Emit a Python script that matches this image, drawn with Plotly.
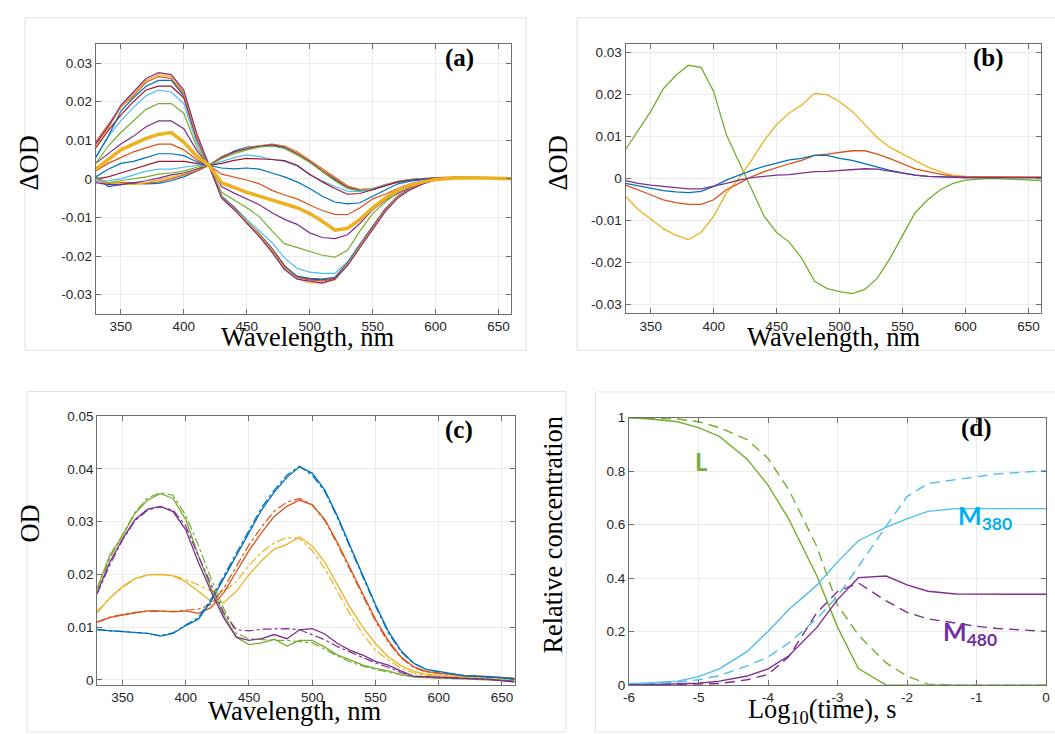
import plotly.graph_objects as go

W, H = 1055, 734

# ---------------- data ----------------
wl = [330, 340, 350, 360, 370, 380, 390, 400, 410, 420, 430, 440, 450, 460, 470, 480,
      490, 500, 510, 520, 530, 540, 550, 560, 570, 580, 590, 600, 620, 640, 660]

# panel (a): 18 time-resolved difference spectra (early -> late)
a01 = [.0005,-.002,-.0015,-.0012,-.0013,-.0012,-.0005,.0005,.002,.0035,.0055,.0072,.0082,.0085,.0086,.0082,.0068,.0046,.002,-.0003,-.0022,-.003,-.0027,-.0017,-.0008,-.0003,0,.0002,.0004,.0002,.0001]
a02 = [-.0005,-.0012,-.001,-.001,-.0012,-.0008,0,.001,.002,.0035,.0057,.007,.0078,.0085,.009,.0085,.007,.0048,.0024,.0002,-.0018,-.0028,-.0025,-.0015,-.0007,-.0002,.0001,.0003,.0005,.0003,0]
a03 = [-.0005,-.001,-.0012,-.0015,-.001,-.0003,.0005,.0012,.0025,.0035,.0055,.0068,.008,.0086,.0088,.0085,.0068,.0046,.0022,0,-.002,-.0028,-.0025,-.0015,-.0006,-.0002,0,.0002,.0004,.0003,.0001]
a04 = [-.001,-.0015,-.0015,-.001,-.0005,.0002,.001,.0015,.0025,.0035,.0055,.007,.0078,.0085,.0088,.0082,.0065,.0045,.002,-.0002,-.0022,-.003,-.0028,-.0017,-.0008,-.0002,0,.0002,.0004,.0002,0]
a05 = [.0005,-.001,-.0005,0,.0005,.0012,.0015,.002,.003,.0035,.0052,.0065,.0075,.0082,.0085,.0078,.0062,.0042,.0018,-.0005,-.0025,-.0032,-.0028,-.0018,-.0008,-.0003,0,.0002,.0003,.0002,.0001]
a06 = [-.0005,-.0005,0,.001,.002,.0025,.0025,.003,.0035,.0035,.0045,.0055,.0062,.0058,.005,.0045,.0033,.001,-.0005,-.002,-.0032,-.0033,-.0025,-.0015,-.0007,-.0002,0,.0002,.0003,.0002,0]
a07 = [0,.0005,.0015,.0025,.0035,.0045,.0045,.0045,.004,.0035,.004,.0048,.0053,.0052,.005,.0047,.0035,.0012,-.0008,-.0025,-.004,-.0038,-.0028,-.0018,-.0008,-.0003,0,.0002,.0003,.0001,0]
a08 = [.0005,.0025,.004,.0045,.0055,.0065,.0065,.006,.0045,.0035,.0028,.0026,.0028,.0025,.0015,.0005,-.0008,-.0025,-.0045,-.006,-.0065,-.0062,-.0045,-.0028,-.0013,-.0006,-.0002,0,.0003,.0002,0]
a09 = [.002,.004,.0055,.007,.008,.009,.009,.0075,.005,.0035,.0012,.0005,-.0003,-.0013,-.003,-.0042,-.0052,-.0068,-.0082,-.0092,-.0093,-.0075,-.0052,-.004,-.0025,-.0013,-.0005,0,.0003,.0002,0]
a10 = [.0025,.005,.0075,.009,.0105,.0115,.012,.0095,.006,.0035,-.001,-.0022,-.0035,-.0045,-.0055,-.0065,-.0075,-.009,-.011,-.0133,-.0128,-.0105,-.0075,-.005,-.003,-.0017,-.0008,-.0002,.0003,.0002,0]
a11 = [.004,.0065,.009,.011,.0135,.015,.015,.013,.0075,.0035,-.002,-.0037,-.0052,-.0067,-.0088,-.0105,-.0118,-.014,-.0152,-.0155,-.0145,-.0115,-.008,-.0055,-.0038,-.0022,-.001,-.0002,.0003,.0002,0]
a12 = [.004,.0085,.012,.015,.018,.0195,.0195,.017,.0085,.0035,-.0035,-.0055,-.0075,-.0098,-.0135,-.0168,-.0178,-.019,-.0198,-.0203,-.0185,-.0135,-.009,-.006,-.0035,-.0018,-.0008,0,.0003,.0002,0]
a13 = [.0055,.011,.015,.0185,.0215,.023,.0225,.0195,.0095,.0035,-.0044,-.0072,-.0105,-.0135,-.0165,-.0205,-.0232,-.0242,-.0245,-.0245,-.0215,-.0168,-.0122,-.0078,-.0045,-.0024,-.001,0,.0003,.0003,.0001]
a14 = [.008,.0125,.0165,.02,.023,.024,.024,.021,.0105,.0035,-.0046,-.0075,-.011,-.0143,-.018,-.0225,-.0255,-.026,-.0262,-.0257,-.0222,-.0172,-.0125,-.008,-.0047,-.0026,-.0012,-.0002,.0003,.0001,0]
a15 = [.0055,.011,.0175,.021,.024,.0255,.0255,.0215,.011,.0035,-.0046,-.0076,-.011,-.0145,-.0183,-.0228,-.0252,-.0258,-.026,-.0255,-.0218,-.017,-.0123,-.0078,-.0045,-.0024,-.001,0,.0004,.0002,.0001]
a16 = [.0095,.014,.0185,.0215,.025,.0265,.026,.022,.011,.0035,-.0047,-.0077,-.0112,-.0148,-.0188,-.0232,-.0255,-.0262,-.0265,-.0258,-.022,-.0172,-.0125,-.008,-.0046,-.0025,-.001,0,.0005,.0003,.0002]
a17 = [.0085,.013,.0185,.022,.0255,.027,.0265,.0225,.0115,.0035,-.0048,-.0078,-.011,-.0145,-.0185,-.023,-.0258,-.027,-.027,-.0262,-.0222,-.0175,-.0128,-.0083,-.0048,-.0026,-.0012,-.0002,.0004,.0003,0]
a18 = [.009,.0135,.019,.0225,.026,.0275,.027,.023,.012,.0035,-.005,-.008,-.0115,-.015,-.019,-.0235,-.026,-.0265,-.027,-.026,-.0225,-.0178,-.013,-.0085,-.005,-.0028,-.0013,-.0003,.0003,.0002,0]

# panel (b): 5 component difference spectra
b_green  = [.0069,.0113,.016,.0214,.0246,.027,.0265,.0207,.0105,.004,-.0027,-.009,-.0129,-.0152,-.0191,-.0245,-.0263,-.027,-.0275,-.0265,-.0238,-.0191,-.0136,-.0082,-.0051,-.0027,-.0012,-.0004,0,-.0002,-.0005]
b_yellow = [-.0043,-.0074,-.0097,-.012,-.0136,-.0146,-.0129,-.009,-.0035,0,.0043,.009,.0129,.0156,.0175,.0203,.02,.0183,.016,.0129,.0097,.0074,.0058,.0043,.0027,.0016,.0008,.0005,.0004,.0003,.0003]
b_orange = [-.0016,-.0027,-.0039,-.0051,-.0058,-.0062,-.0062,-.0051,-.0027,-.0012,.0004,.0016,.0026,.0035,.0043,.0055,.0058,.0062,.0066,.0066,.0058,.0047,.0035,.0023,.0016,.001,.0005,.0004,.0003,.0003,.0003]
b_blue   = [-.0012,-.0018,-.0023,-.0029,-.0032,-.0034,-.0031,-.0019,-.0004,.0008,.0019,.0029,.0037,.0044,.0048,.0055,.0055,.0048,.0043,.0035,.0027,.0019,.0013,.0008,.0005,.0004,.0002,.0002,.0002,.0002,.0002]
b_purple = [-.0005,-.0012,-.0016,-.0019,-.0023,-.0025,-.0025,-.0019,-.0012,-.0004,.0002,.0005,.0008,.0009,.0012,.0016,.0017,.0019,.0022,.0023,.0022,.0017,.0012,.0008,.0005,.0004,.0002,.0002,.0002,.0002,.0002]

# panel (c): absolute spectra, measured (solid) and model (dash-dot)
c_blue_s   = [.0095,.0093,.0092,.009,.0088,.0083,.0088,.0103,.0115,.0149,.0192,.0236,.0279,.0322,.0356,.0384,.0404,.0392,.036,.031,.0254,.0199,.0143,.0093,.0056,.0032,.002,.0016,.0008,.0006,.0002]
c_blue_d   = [.0096,.0093,.0092,.009,.0088,.0084,.0089,.0104,.0118,.0153,.0197,.0242,.0285,.0327,.036,.0388,.0405,.0388,.0357,.0307,.0251,.0196,.014,.009,.0054,.0031,.002,.0015,.0008,.0005,.0002]
c_orange_s = [.0109,.0118,.0123,.0127,.0131,.0131,.0129,.0131,.0126,.0137,.0165,.0205,.0245,.0279,.031,.0329,.0341,.0332,.0304,.026,.0211,.0162,.0115,.0075,.0044,.0025,.0016,.0013,.0008,.0006,.0003]
c_orange_d = [.011,.0119,.0124,.0128,.013,.013,.013,.0132,.0134,.0143,.0173,.0215,.0256,.029,.032,.0337,.0344,.0332,.0302,.0257,.0208,.0158,.0111,.0072,.0042,.0024,.0015,.0012,.0008,.0005,.0003]
c_yellow_s = [.0127,.0155,.0177,.0192,.0199,.02,.0197,.0186,.0168,.0149,.0146,.0168,.0199,.0226,.0248,.0257,.0271,.0254,.0223,.018,.0137,.01,.0069,.0044,.0027,.0016,.0011,.0008,.0006,.0005,.0002]
c_yellow_d = [.013,.0155,.0175,.0192,.0199,.02,.0198,.019,.018,.0169,.0168,.0186,.0217,.0242,.026,.027,.0268,.0245,.0211,.0168,.0124,.0087,.0056,.0038,.0022,.0013,.0009,.0007,.0005,.0004,.0002]
c_green_s  = [.0174,.0236,.0273,.0316,.0341,.0353,.0344,.0304,.0236,.0174,.0124,.0081,.0067,.007,.0077,.0064,.0075,.0075,.0062,.0047,.0038,.0028,.0022,.0017,.001,.0006,.0005,.0004,.0003,.0001,-.0002]
c_green_d  = [.0172,.023,.0275,.0318,.0345,.0355,.035,.0312,.0255,.0192,.0136,.0088,.0078,.0076,.0075,.0075,.0073,.007,.0058,.0045,.0034,.0026,.002,.0015,.0009,.0005,.0004,.0003,.0002,.0001,-.0001]
c_purple_s = [.0165,.0223,.0267,.0304,.0324,.0329,.0319,.0285,.0223,.0168,.0118,.0081,.0075,.0078,.0086,.0078,.0095,.0097,.0087,.0069,.0056,.0047,.0035,.0028,.0017,.0007,.0006,.0005,.0004,.0001,-.0004]
c_purple_d = [.0163,.0218,.0265,.0302,.0322,.0328,.0322,.0292,.0235,.018,.0128,.0095,.0093,.0096,.0097,.0097,.0095,.0086,.0076,.0063,.0053,.0042,.0032,.0024,.0014,.0007,.0005,.0004,.0003,.0001,-.0003]

# panel (d): relative concentrations vs log10(time)
logt = [-6, -5.7, -5.3, -5, -4.7, -4.3, -4, -3.7, -3.3, -3, -2.7, -2.3, -2, -1.7, -1.3, -1, -0.7, -0.3, 0]
L_s    = [1.0, .995, .985, .963, .93, .845, .748, .62, .41, .217, .062, 0, 0, 0, 0, 0, 0, 0, 0]
L_d    = [1.0, .999, .995, .985, .963, .918, .848, .73, .52, .30, .187, .083, .034, .004, 0, 0, 0, 0, 0]
M380_s = [.005, .008, .015, .032, .061, .126, .201, .283, .373, .461, .54, .591, .622, .65, .66, .66, .66, .66, .66]
M380_d = [.003, .006, .012, .02, .036, .072, .105, .158, .248, .333, .443, .595, .705, .754, .768, .78, .79, .797, .802]
M480_s = [0, .002, .004, .007, .015, .034, .061, .11, .215, .32, .402, .408, .375, .351, .341, .34, .34, .34, .34]
M480_d = [0, .001, .002, .003, .006, .02, .04, .107, .27, .35, .382, .315, .272, .248, .232, .22, .212, .205, .201]

# ticks
wl_ticks = [350, 400, 450, 500, 550, 600, 650]
wl_ticktext = ["350", "400", "450", "500", "550", "600", "650"]
dod_ticks = [-0.03, -0.02, -0.01, 0, 0.01, 0.02, 0.03]
dod_ticktext = ["-0.03", "-0.02", "-0.01", "0", "0.01", "0.02", "0.03"]
od_ticks = [0, 0.01, 0.02, 0.03, 0.04, 0.05]
od_ticktext = ["0", "0.01", "0.02", "0.03", "0.04", "0.05"]
t_ticks = [-6, -5, -4, -3, -2, -1, 0]
t_ticktext = ["-6", "-5", "-4", "-3", "-2", "-1", "0"]
c_ticks = [0, 0.2, 0.4, 0.6, 0.8, 1]
c_ticktext = ["0", "0.2", "0.4", "0.6", "0.8", "1"]

# ---------------- styles ----------------
BLUE, ORANGE, YELLOW, PURPLE, GREEN, LBLUE, DRED = (
    "#0072BD", "#D95319", "#EDB120", "#7E2F8E", "#77AC30", "#4DBEEE", "#A2142F")
cycle = [BLUE, ORANGE, YELLOW, PURPLE, GREEN, LBLUE, DRED]

fig = go.Figure()

a_curves = [a01, a02, a03, a04, a05, a06, a07, a08, a09, a10, a11, a12, a13, a14, a15, a16, a17, a18]
for i, ys in enumerate(a_curves):
    if i == 9:
        continue
    fig.add_trace(go.Scatter(x=wl, y=ys, mode="lines", xaxis="x", yaxis="y",
                             line=dict(color=cycle[i % 7], width=1.2)))
fig.add_trace(go.Scatter(x=wl, y=a10, mode="lines", xaxis="x", yaxis="y",
                         line=dict(color=YELLOW, width=3.5)))

for ys, col in [(b_green, GREEN), (b_yellow, YELLOW), (b_orange, ORANGE), (b_blue, BLUE), (b_purple, PURPLE)]:
    fig.add_trace(go.Scatter(x=wl, y=ys, mode="lines", xaxis="x2", yaxis="y2",
                             line=dict(color=col, width=1.3)))

for ys_s, ys_d, col in [(c_yellow_s, c_yellow_d, YELLOW), (c_orange_s, c_orange_d, ORANGE),
                        (c_blue_s, c_blue_d, BLUE), (c_green_s, c_green_d, GREEN),
                        (c_purple_s, c_purple_d, PURPLE)]:
    fig.add_trace(go.Scatter(x=wl, y=ys_d, mode="lines", xaxis="x3", yaxis="y3",
                             line=dict(color=col, width=1.2, dash="dashdot")))
    fig.add_trace(go.Scatter(x=wl, y=ys_s, mode="lines", xaxis="x3", yaxis="y3",
                             line=dict(color=col, width=1.3)))

for ys, col, dash in [(L_s, GREEN, "solid"), (L_d, GREEN, "10px,6px"),
                      (M380_s, LBLUE, "solid"), (M380_d, LBLUE, "10px,6px"),
                      (M480_s, PURPLE, "solid"), (M480_d, PURPLE, "10px,6px")]:
    fig.add_trace(go.Scatter(x=logt, y=ys, mode="lines", xaxis="x4", yaxis="y4",
                             line=dict(color=col, width=1.4, dash=dash)))

AX = "#6e6e6e"
GRID = "#ebebeb"
TICKFONT = dict(family="Liberation Sans, Arial, sans-serif", size=13.5, color="#262626")


def ax(domain, rng, tv, tt, anchor):
    return dict(domain=domain, range=rng, tickvals=tv, ticktext=tt, anchor=anchor,
                showline=True, linecolor=AX, linewidth=1, mirror="ticks",
                ticks="inside", ticklen=5, tickcolor=AX, tickwidth=1,
                showgrid=True, gridcolor=GRID, gridwidth=1, zeroline=False,
                tickfont=TICKFONT, fixedrange=True)


def px(x):
    return x / W


def py(y):
    return 1 - y / H


fig.update_layout(
    width=W, height=H, margin=dict(l=0, r=0, t=0, b=0),
    paper_bgcolor="white", plot_bgcolor="white", showlegend=False,
    xaxis=ax([px(90.5), px(510)], [330, 660], wl_ticks, wl_ticktext, "y"),
    yaxis=ax([py(313.3), py(37.5)], [-0.035, 0.035], dod_ticks, dod_ticktext, "x"),
    xaxis2=ax([px(625.5), px(1045)], [330, 660], wl_ticks, wl_ticktext, "y2"),
    yaxis2=ax([py(312.7), py(37.7)], [-0.0322, 0.0321], dod_ticks, dod_ticktext, "x2"),
    xaxis3=ax([px(92), px(513.5)], [330, 660], wl_ticks, wl_ticktext, "y3"),
    yaxis3=ax([py(692.3), py(417.7)], [-0.001, 0.05], od_ticks, od_ticktext, "x3"),
    xaxis4=ax([px(629), px(1050)], [-6, 0], t_ticks, t_ticktext, "y4"),
    yaxis4=ax([py(692.3), py(419.3)], [0, 1], c_ticks, c_ticktext, "x4"),
)

# light panel frames
FRAME = "#e3e3e3"
for x0, y0, x1, y1 in [(19, 11, 525, 350.5), (576.5, 11, 1060, 350.5),
                       (21.5, 392.5, 565.5, 740), (595, 393, 1060, 740)]:
    fig.add_shape(type="rect", xref="paper", yref="paper",
                  x0=px(x0), x1=px(x1), y0=py(y1), y1=py(y0),
                  line=dict(color=FRAME, width=1), fillcolor="rgba(0,0,0,0)", layer="below")

SERIF = "Liberation Serif, Times New Roman, serif"


def txt(x, y, s, size, angle=0, bold=False, color="black", family=SERIF):
    fig.add_annotation(x=px(x), y=py(y), xref="paper", yref="paper", text=("<b>%s</b>" % s) if bold else s,
                       showarrow=False, xanchor="center", yanchor="middle", textangle=angle,
                       font=dict(family=family, size=size, color=color))


# panel labels
txt(457.7, 52, "(a)", 25, bold=True)
txt(992, 52, "(b)", 25, bold=True)
txt(457, 431.5, "(c)", 25, bold=True)
txt(980, 430, "(d)", 25, bold=True)

# axis titles
txt(23, 159, "ΔOD", 26.5, angle=-90)
txt(304, 337, "Wavelength, nm", 26.5)
txt(557, 159, "ΔOD", 26.5, angle=-90)
txt(835, 337, "Wavelength, nm", 26.5)
txt(24.6, 527, "OD", 26.5, angle=-90)
txt(291.5, 719, "Wavelength, nm", 26.5)
txt(553.7, 539, "Relative concentration", 26.3, angle=-90)
txt(823.5, 719, "Log<sub>10</sub>(time), s", 26.3)

# species labels in (d)
SANS = "Lato, Open Sans, sans-serif"
txt(701.7, 464, "L", 24, bold=True, color="#70AD47", family=SANS)
txt(988, 521, "M<sub>380</sub>", 25, bold=True, color="#00B0F0", family=SANS)
txt(973, 639, "M<sub>480</sub>", 25, bold=True, color="#7030A0", family=SANS)

fig.write_html("out.html")
